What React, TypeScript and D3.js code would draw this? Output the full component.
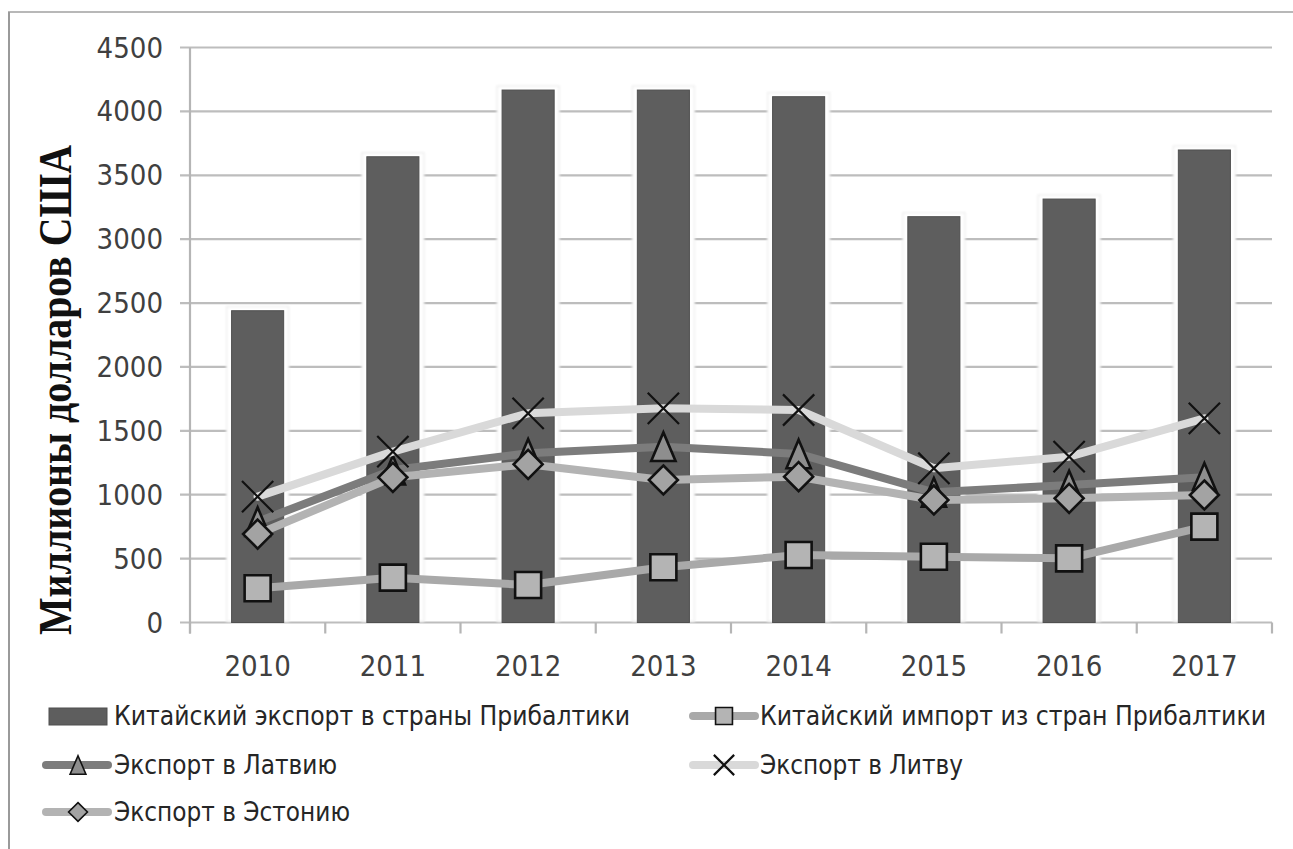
import React from 'react';
import * as d3 from 'd3';

const years = ['2010', '2011', '2012', '2013', '2014', '2015', '2016', '2017'];
const exportTotal = [2440, 3645, 4167, 4167, 4115, 3176, 3314, 3698];
const importTotal = [268, 351, 293, 432, 528, 515, 502, 750];
const exportLatvia = [789, 1193, 1324, 1376, 1319, 1019, 1076, 1136];
const exportLithuania = [985, 1337, 1637, 1676, 1663, 1207, 1298, 1598];
const exportEstonia = [692, 1136, 1238, 1115, 1141, 959, 972, 998];
const yTicks = [0, 500, 1000, 1500, 2000, 2500, 3000, 3500, 4000, 4500];

const labelBars = 'Китайский экспорт в страны Прибалтики';
const labelImport = 'Китайский импорт из стран Прибалтики';
const labelLatvia = 'Экспорт в Латвию';
const labelLithuania = 'Экспорт в Литву';
const labelEstonia = 'Экспорт в Эстонию';
const yTitle = 'Миллионы долларов США';

const W = 1293;
const H = 849;
const left = 190;
const right = 1272;
const top = 47.5;
const bottom = 622.5;

const sansNarrow = '"Liberation Sans Narrow", "DejaVu Sans Condensed", "Liberation Sans", sans-serif';

// triangle with apex up, centred on its bounding box
const triangleUp = {
  draw(ctx: any, size: number) {
    const h = Math.sqrt(size) * 1.1;
    const w = h * 0.85;
    ctx.moveTo(0, -h / 2);
    ctx.lineTo(w / 2, h / 2);
    ctx.lineTo(-w / 2, h / 2);
    ctx.closePath();
  },
};

const diamond = {
  draw(ctx: any, size: number) {
    const r = Math.sqrt(size) / 2;
    ctx.moveTo(0, -r);
    ctx.lineTo(r, 0);
    ctx.lineTo(0, r);
    ctx.lineTo(-r, 0);
    ctx.closePath();
  },
};

const squareSym = d3.symbol().type(d3.symbolSquare);

type Series = {
  key: string;
  values: number[];
  line: string;
  fill: string;
  kind: 'square' | 'triangle' | 'x' | 'diamond';
};

const series: Series[] = [
  { key: 'import', values: importTotal, line: '#a9a9a9', fill: '#b4b4b4', kind: 'square' },
  { key: 'latvia', values: exportLatvia, line: '#7c7c7c', fill: '#8e8e8e', kind: 'triangle' },
  { key: 'lithuania', values: exportLithuania, line: '#d9d9d9', fill: 'none', kind: 'x' },
  { key: 'estonia', values: exportEstonia, line: '#b3b3b3', fill: '#a3a3a3', kind: 'diamond' },
];

function markerPath(kind: Series['kind'], scale: number): string {
  if (kind === 'square') return squareSym.size(26 * 26 * scale * scale)() as string;
  if (kind === 'triangle') return d3.symbol().type(triangleUp as any).size(26 * 26 * scale * scale)() as string;
  if (kind === 'diamond') return d3.symbol().type(diamond as any).size(29 * 29 * scale * scale)() as string;
  return d3.symbol().type(d3.symbolX).size(640 * scale * scale)() as string;
}

function Marker({ s, x, y, scale = 1 }: { s: Series; x: number; y: number; scale?: number }) {
  const d = markerPath(s.kind, scale);
  if (s.kind === 'x') {
    return <path d={d} transform={`translate(${x},${y})`} fill="none" stroke="#111" strokeWidth={2.2} />;
  }
  return (
    <path
      d={d}
      transform={`translate(${x},${y})`}
      fill={s.fill}
      stroke="#111"
      strokeWidth={scale < 1 ? 1.6 : 2.6}
      strokeLinejoin="miter"
    />
  );
}

export default function App() {
  const x = d3.scaleBand<string>().domain(years).range([left, right]).paddingInner(0).paddingOuter(0);
  const y = d3.scaleLinear().domain([0, 4500]).range([bottom, top]);
  const bw = x.bandwidth() * 0.385;
  const cx = (yr: string) => (x(yr) as number) + x.bandwidth() / 2;

  const line = d3
    .line<number>()
    .x((_, i) => cx(years[i]))
    .y((v) => y(v));

  const boundaries = years.map((yr) => x(yr) as number).concat([right]);

  const legendRows = [716, 765, 812];
  const legendColL = { sw0: 46, sw1: 108, mk: 78, tx: 114 };
  const legendColR = { sw0: 693, sw1: 755, mk: 724, tx: 760 };

  return (
    <div style={{ position: 'absolute', left: 0, top: 0 }}>
      <svg width={W} height={H} style={{ display: 'block', background: '#fff' }}>
        <defs>
          <filter id="soft" x="-5%" y="-5%" width="110%" height="110%">
            <feGaussianBlur stdDeviation="0.6" />
          </filter>
          <filter id="halo" x="-20%" y="-5%" width="140%" height="110%">
            <feGaussianBlur stdDeviation="1.2" />
          </filter>
        </defs>
        {/* chart frame */}
        <rect x={9} y={12} width={W + 20} height={H + 20} fill="none" stroke="#b8b8b8" strokeWidth={2} />
        <line x1={9} y1={12} x2={9} y2={H} stroke="#9a9a9a" strokeWidth={2} />

        {/* horizontal gridlines */}
        <g filter="url(#soft)">
          {yTicks.map((t) => (
            <line key={t} x1={180} x2={right} y1={y(t)} y2={y(t)} stroke="#bdbdbd" strokeWidth={2.2} />
          ))}
          <line x1={left} x2={left} y1={top} y2={bottom + 11} stroke="#b5b5b5" strokeWidth={2.2} />
          {boundaries.map((b, i) => (
            <line key={i} x1={b} x2={b} y1={bottom} y2={bottom + 11} stroke="#b5b5b5" strokeWidth={2.2} />
          ))}
        </g>

        {/* y tick labels */}
        {yTicks.map((t) => (
          <text
            key={t}
            x={163}
            y={y(t)}
            textAnchor="end"
            dominantBaseline="central"
            fontFamily={sansNarrow}
            fontSize={29}
            fill="#404040"
          >
            {t}
          </text>
        ))}

        {/* x tick labels */}
        {years.map((yr) => (
          <text
            key={yr}
            x={cx(yr)}
            y={666}
            textAnchor="middle"
            dominantBaseline="central"
            fontFamily={sansNarrow}
            fontSize={29}
            fill="#404040"
          >
            {yr}
          </text>
        ))}

        {/* y axis title */}
        <text
          transform={`translate(71,390) rotate(-90)`}
          textAnchor="middle"
          fontFamily='"Liberation Serif", "Times New Roman", serif'
          fontWeight="bold"
          fontSize={46}
          textLength={490}
          lengthAdjust="spacingAndGlyphs"
          fill="#111"
        >
          {yTitle}
        </text>

        {/* bars with a soft white halo */}
        {exportTotal.map((v, i) => {
          const bx = cx(years[i]) - bw / 2;
          return (
            <g key={years[i]}>
              <rect
                x={bx - 5}
                y={y(v) - 4}
                width={bw + 10}
                height={bottom - y(v) + 3}
                fill="#fff"
                stroke="#ececec"
                strokeWidth={1.2}
                filter="url(#halo)"
              />
              <rect x={bx} y={y(v)} width={bw} height={bottom - y(v)} fill="#5e5e5e" stroke="#4f4f4f" strokeWidth={1} />
            </g>
          );
        })}

        {/* lines with markers */}
        {series.map((s) => (
          <g key={s.key}>
            <path
              d={line(s.values) as string}
              fill="none"
              stroke={s.line}
              strokeWidth={8}
              strokeLinejoin="round"
              strokeLinecap="round"
            />
            {s.values.map((v, i) => (
              <Marker key={i} s={s} x={cx(years[i])} y={y(v)} />
            ))}
          </g>
        ))}

        {/* legend */}
        <rect x={49} y={708} width={58} height={17} fill="#5e5e5e" stroke="#4f4f4f" strokeWidth={1} />
        <text x={legendColL.tx} y={legendRows[0]} dominantBaseline="central" fontFamily={sansNarrow} fontSize={26} fill="#262626" textLength={516} lengthAdjust="spacingAndGlyphs">
          {labelBars}
        </text>

        {[
          { s: series[0], col: legendColR, row: legendRows[0], label: labelImport, len: 506 },
          { s: series[1], col: legendColL, row: legendRows[1], label: labelLatvia, len: 223 },
          { s: series[2], col: legendColR, row: legendRows[1], label: labelLithuania, len: 203 },
          { s: series[3], col: legendColL, row: legendRows[2], label: labelEstonia, len: 236 },
        ].map(({ s, col, row, label, len }) => (
          <g key={s.key}>
            <line x1={col.sw0} x2={col.sw1} y1={row} y2={row} stroke={s.line} strokeWidth={8} strokeLinecap="round" />
            <Marker s={s} x={col.mk} y={row} scale={0.65} />
            <text x={col.tx} y={row} dominantBaseline="central" fontFamily={sansNarrow} fontSize={26} fill="#262626" textLength={len} lengthAdjust="spacingAndGlyphs">
              {label}
            </text>
          </g>
        ))}
      </svg>
    </div>
  );
}
